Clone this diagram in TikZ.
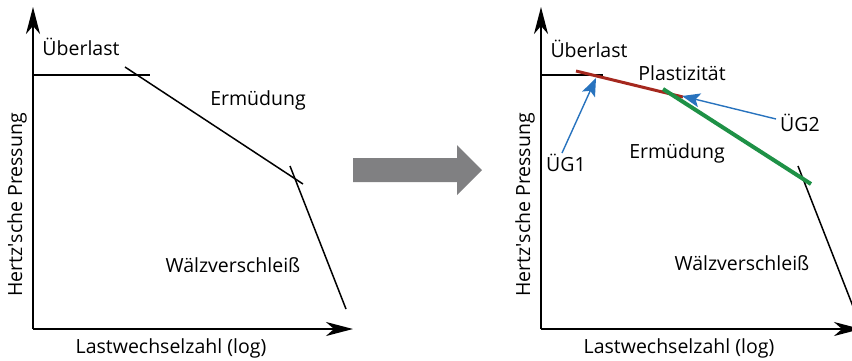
\documentclass[tikz,border=0pt]{standalone}
\usepackage{fontspec}
\setmainfont{Open Sans}
\usetikzlibrary{arrows.meta}
\definecolor{darkred}{RGB}{165,40,30}
\definecolor{curvegreen}{RGB}{30,145,70}
\definecolor{arrowblue}{RGB}{40,115,190}
\definecolor{biggray}{RGB}{128,128,130}
\newcommand{\straightapos}{\XeTeXglyph\XeTeXglyphindex "quotesingle"\relax}
\tikzset{
  axis/.style={line width=1.6pt,-{Stealth[length=27pt,width=14pt,inset=8pt]}},
  curve/.style={line width=1.5pt},
  lbl/.style={font=\fontsize{19.5}{22}\selectfont,inner sep=0pt},
  pointer/.style={arrowblue,line width=1.4pt,-{Stealth[length=18pt,width=14pt,inset=4pt]}},
}
\begin{document}
\begin{tikzpicture}[x=1pt,y=-1pt]
\useasboundingbox (0,0) rectangle (852,360);
% ---- left panel
\coordinate (lo) at (33,329);
\coordinate (ly) at (33,7);
\coordinate (lx) at (353,329);
\draw[axis] (lo) -- (ly);
\draw[axis] (lo) -- (lx);
\coordinate (a1) at (33,75);
\coordinate (a2) at (150,75);
\coordinate (b1) at (125,67);
\coordinate (b2) at (303,184);
\coordinate (c1) at (290,166);
\coordinate (c2) at (346,309);
\draw[curve] (a1) -- (a2);
\draw[curve] (b1) -- (b2);
\draw[curve] (c1) -- (c2);
\node[lbl] (lueber) at (81,47) {Überlast};
\node[lbl] (lerm) at (258,100) {Ermüdung};
\node[lbl] (lwalz) at (233,265) {Wälzverschleiß};
\node[lbl] (lxl) at (171,348) {Lastwechselzahl (log)};
\node[lbl,rotate=90] (lyl) at (17,205) {Hertz\straightapos sche Pressung};
% ---- big arrow
\fill[biggray] (353,158) -- (457,158) -- (457,145) -- (482,170) -- (457,195) -- (457,182) -- (353,182) -- cycle;
% ---- right panel
\coordinate (ro) at (541,329);
\coordinate (ry) at (541,7);
\coordinate (rx) at (861,329);
\draw[axis] (ro) -- (ry);
\draw[axis] (ro) -- (rx);
\coordinate (d1) at (541,75);
\coordinate (d2) at (603,75);
\coordinate (e1) at (576,71);
\coordinate (e2) at (683,97);
\coordinate (f1) at (663,89);
\coordinate (f2) at (811,184);
\coordinate (g1) at (798,166);
\coordinate (g2) at (854,309);
\draw[curve] (d1) -- (d2);
\draw[curve] (g1) -- (g2);
\draw[darkred,line width=3pt] (e1) -- (e2);
\draw[curvegreen,line width=4pt] (f1) -- (f2);
\node[lbl] (rueber) at (589,49) {Überlast};
\node[lbl] (rplast) at (682,73) {Plastizität};
\node[lbl] (rug2) at (800,123) {ÜG2};
\node[lbl] (rug1) at (566,163) {ÜG1};
\node[lbl] (rerm) at (677,153) {Ermüdung};
\node[lbl] (rwalz) at (742,263) {Wälzverschleiß};
\node[lbl] (rxl) at (679,348) {Lastwechselzahl (log)};
\node[lbl,rotate=90] (ryl) at (525,205) {Hertz\straightapos sche Pressung};
\coordinate (t1) at (596,78);
\coordinate (t2) at (682,96);
\draw[pointer] (562,153) -- (t1);
\draw[pointer] (776,119) -- (t2);
\end{tikzpicture}
\end{document}
